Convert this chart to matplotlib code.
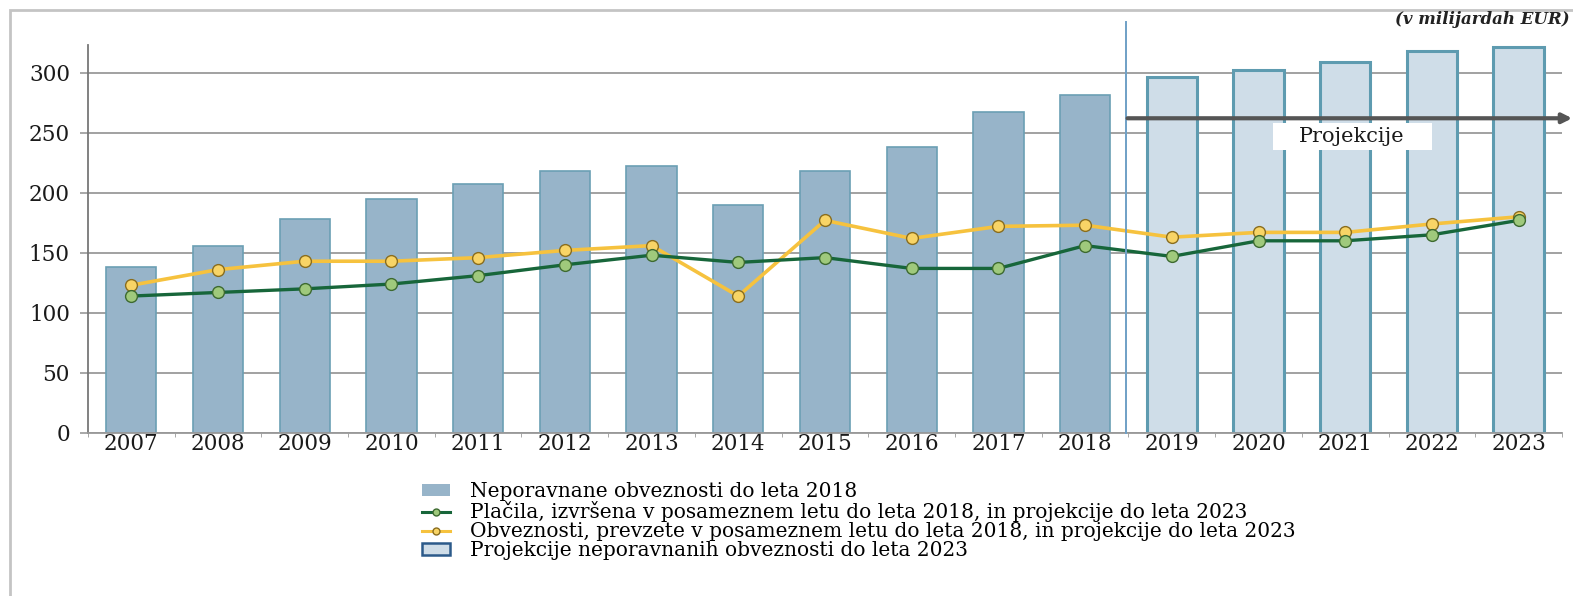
import numpy as np
import matplotlib.pyplot as plt
from matplotlib.patches import Patch, Rectangle
from matplotlib.lines import Line2D

plt.rcParams['font.family'] = ['DejaVu Serif']

years = ['2007', '2008', '2009', '2010', '2011', '2012', '2013', '2014', '2015',
         '2016', '2017', '2018', '2019', '2020', '2021', '2022', '2023']
# neporavnane obveznosti (2007-2018 dejanske, 2019-2023 projekcije)
outstanding = [138, 156, 178, 195, 207, 218, 222, 190, 218, 238, 267, 281,
               296, 302, 309, 318, 321]
payments = [114, 117, 120, 124, 131, 140, 148, 142, 146, 137, 137, 156,
            147, 160, 160, 165, 177]
commitments = [123, 136, 143, 143, 146, 152, 156, 114, 177, 162, 172, 173,
               163, 167, 167, 174, 180]
n_actual = 12

legend_labels = ['Neporavnane obveznosti do leta 2018',
                 'Plačila, izvršena v posameznem letu do leta 2018, in projekcije do leta 2023',
                 'Obveznosti, prevzete v posameznem letu do leta 2018, in projekcije do leta 2023',
                 'Projekcije neporavnanih obveznosti do leta 2023']

DARK_FILL = '#97b4c9'
DARK_EDGE = '#6b9fb4'
LIGHT_FILL = '#cfdde8'
LIGHT_EDGE = '#5e9bb0'
GREEN = '#17663a'
GREEN_M = '#9fc97c'
YELLOW = '#f6c23e'
YELLOW_M = '#f8d466'

fig = plt.figure(figsize=(15.73, 5.96), dpi=100)
ax = fig.add_axes([0.0559, 0.2735, 0.9371, 0.651])

x = np.arange(len(years))
ax.bar(x[:n_actual], outstanding[:n_actual], 0.58, color=DARK_FILL,
       edgecolor=DARK_EDGE, linewidth=1.2, zorder=2)
ax.bar(x[n_actual:], outstanding[n_actual:], 0.58, color=LIGHT_FILL,
       edgecolor=LIGHT_EDGE, linewidth=2.2, zorder=2)

ax.plot(x, payments, color=GREEN, lw=2.4, marker='o', ms=8.5,
        mfc=GREEN_M, mec='#3d6a30', mew=1, zorder=4)
ax.plot(x, commitments, color=YELLOW, lw=2.6, marker='o', ms=8.5,
        mfc=YELLOW_M, mec='#8a6d1e', mew=1, zorder=3)

ax.set_xlim(-0.5, len(years) - 0.5)
ax.set_ylim(0, 323)
ax.set_yticks([0, 50, 100, 150, 200, 250, 300])
ax.set_xticks(x)
ax.set_xticklabels(years, fontsize=15.5)
ax.tick_params(axis='x', length=0, pad=0, colors='#1a1a1a')
ax.set_xticks(np.arange(-0.5, len(years)), minor=True)
ax.tick_params(axis='x', which='minor', length=3, color='#999999')
ax.tick_params(axis='y', length=6, width=1.2, color='#999999', labelsize=15.5,
               pad=7)
for lab in ax.get_yticklabels():
    lab.set_color('#1a1a1a')
ax.yaxis.grid(True, color='#9a9a9a', lw=1.3, zorder=0)
ax.set_axisbelow(True)
for s in ['top', 'right']:
    ax.spines[s].set_visible(False)
ax.spines['left'].set_color('#777777')
ax.spines['left'].set_linewidth(1.3)
ax.spines['bottom'].set_color('#999999')
ax.spines['bottom'].set_linewidth(1.3)

# locnica med dejanskimi podatki in projekcijami
ax.axvline(11.47, ymin=0, ymax=1.06, color='#6fa0c6', lw=1.4, clip_on=False, zorder=5)
ax.annotate('', xy=(0.9995, 262), xycoords=('figure fraction', 'data'),
            xytext=(11.49, 262), textcoords='data',
            arrowprops=dict(arrowstyle='-|>', lw=3, color='#555555',
                            mutation_scale=14, shrinkA=0, shrinkB=0),
            annotation_clip=False, zorder=6)
ax.add_patch(Rectangle((13.17, 236), 1.83, 22, facecolor='white',
                       edgecolor='none', zorder=6))
ax.text(14.08, 247, 'Projekcije', ha='center', va='center', fontsize=15,
        color='#1a1a1a', zorder=7)

fig.text(0.998, 0.968, '(v milijardah EUR)', ha='right', va='center',
         fontsize=12, style='italic', fontweight='bold', color='#222222')

# okvir slike
fig.add_artist(Rectangle((10 / 1573, -0.05), 1.1, 1.05 - 10 / 596,
                         transform=fig.transFigure, fill=False,
                         edgecolor='#c4c4c4', lw=2))

handles = [Patch(facecolor=DARK_FILL, edgecolor='none'),
           Line2D([], [], color=GREEN, lw=2.2, marker='o', ms=5, mfc=GREEN_M, mec='#3d6a30'),
           Line2D([], [], color=YELLOW, lw=2.2, marker='o', ms=5, mfc=YELLOW_M, mec='#8a6d1e'),
           Patch(facecolor=LIGHT_FILL, edgecolor='#2c5a8a', lw=1.8)]
fig.legend(handles, legend_labels, loc='upper left',
           bbox_to_anchor=(412 / 1573, 1 - 472 / 596), frameon=False,
           fontsize=14.5, handlelength=1.4, handleheight=0.5,
           handletextpad=1.0, labelspacing=0.0, borderpad=0)

fig.savefig('out.png', dpi=100)
